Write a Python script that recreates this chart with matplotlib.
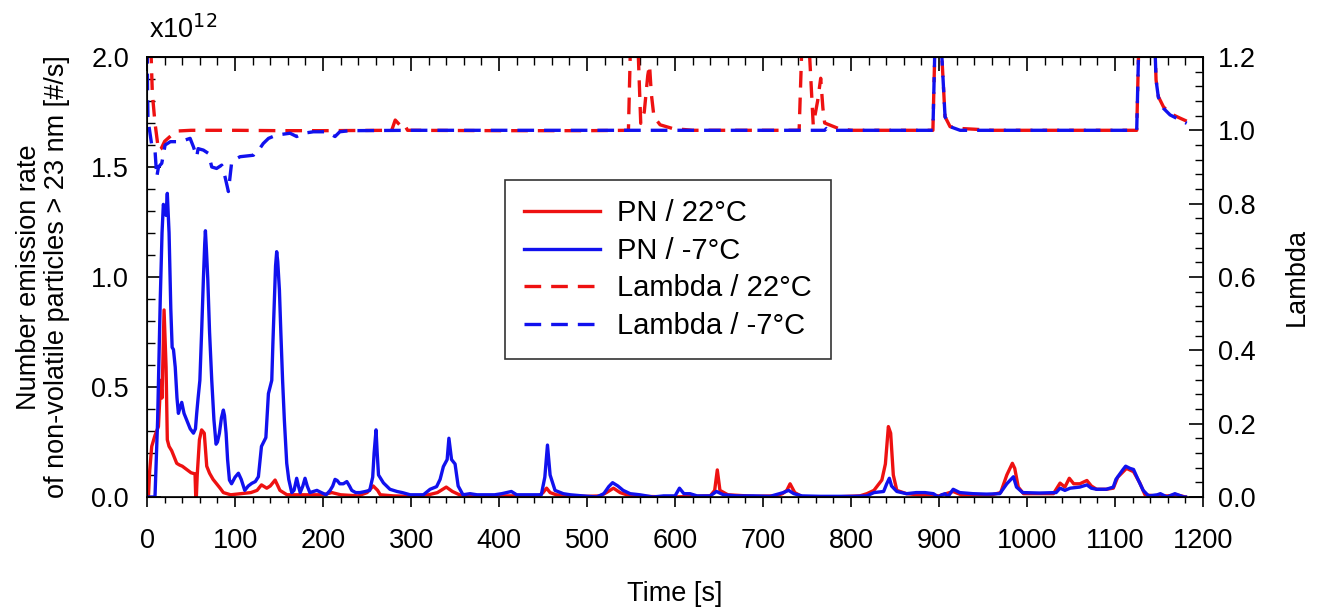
import matplotlib
matplotlib.use("Agg")
import matplotlib.pyplot as plt
from matplotlib.ticker import MultipleLocator, FormatStrFormatter

plt.rcParams['font.family'] = ['Liberation Sans', 'DejaVu Sans']

# ---- data (PN in units of 1e12 #/s) ----
pn_m7_t = [0, 8, 9, 12, 15, 17, 18.5, 20, 21.5, 23, 25, 27, 28.5, 30, 32, 34, 35.6, 37, 39.4, 42, 45, 49, 52.7, 55, 56.4, 58, 60, 62, 64, 65.5, 66.3, 67.5, 69, 71, 73.5, 76, 78.4, 80, 82.2, 84.5, 86.7, 88, 89.8, 91.5, 93.6, 96, 100, 103.8, 107, 111, 115, 119, 123, 126.5, 130, 135, 137.9, 141.7, 143, 144.7, 146, 147.3, 148.5, 150.4, 152, 154, 156, 158.7, 161, 164.4, 167, 170, 172, 174, 177, 179.5, 182, 185, 189, 193, 198, 203.5, 208, 211, 213.6, 216, 219, 223, 227, 230, 232.6, 237, 242, 248, 253, 256.4, 258, 260.2, 261.5, 263, 268.6, 276, 284, 290, 299, 306, 314, 321.6, 329, 333, 336.7, 341, 343, 344.5, 346, 350, 353.5, 359, 367, 375, 383, 395, 403, 408.7, 414, 420, 436, 448, 452, 455, 458, 463.6, 473, 481, 495, 511, 519, 524.6, 529, 535, 541, 549, 560, 575, 587, 600, 605, 610, 617, 625, 640, 647, 655, 670, 689, 708, 723, 729, 735, 744, 765, 784, 803, 818, 826, 837, 840.5, 843.5, 846, 852, 863, 874, 884, 893.6, 899, 903, 907, 910, 916, 923.6, 938.6, 954, 969, 977, 984.5, 988, 995, 1014, 1033, 1037.5, 1043, 1049, 1060, 1068, 1073, 1079, 1090, 1098, 1101, 1108.7, 1112, 1117, 1121, 1126.6, 1132, 1138, 1148, 1151.5, 1159, 1168, 1178, 1180]
pn_m7_v = [0, 0, 0, 0.35, 0.9, 1.2, 1.33, 1.31, 1.28, 1.38, 1.2, 0.85, 0.68, 0.67, 0.59, 0.45, 0.38, 0.40, 0.43, 0.38, 0.35, 0.31, 0.29, 0.31, 0.38, 0.45, 0.53, 0.75, 0.99, 1.15, 1.21, 1.12, 0.99, 0.75, 0.53, 0.35, 0.24, 0.25, 0.29, 0.36, 0.395, 0.37, 0.29, 0.17, 0.077, 0.06, 0.09, 0.108, 0.08, 0.03, 0.05, 0.062, 0.07, 0.092, 0.23, 0.27, 0.47, 0.53, 0.7, 0.895, 1.05, 1.115, 1.07, 0.94, 0.75, 0.53, 0.35, 0.153, 0.08, 0.02, 0.03, 0.085, 0.05, 0.02, 0.05, 0.085, 0.05, 0.02, 0.025, 0.03, 0.02, 0.01, 0.03, 0.05, 0.08, 0.075, 0.06, 0.06, 0.07, 0.05, 0.03, 0.02, 0.02, 0.025, 0.03, 0.09, 0.2, 0.305, 0.2, 0.1, 0.064, 0.035, 0.025, 0.02, 0.01, 0.01, 0.01, 0.035, 0.047, 0.08, 0.138, 0.17, 0.267, 0.22, 0.17, 0.15, 0.05, 0.01, 0.015, 0.01, 0.01, 0.01, 0.015, 0.02, 0.025, 0.01, 0.01, 0.01, 0.09, 0.236, 0.1, 0.03, 0.015, 0.01, 0.005, 0.0, 0.015, 0.047, 0.065, 0.05, 0.03, 0.015, 0.01, 0.0, 0.005, 0.005, 0.04, 0.015, 0.015, 0.005, 0.005, 0.025, 0.01, 0.005, 0.005, 0.003, 0.02, 0.03, 0.015, 0.005, 0.003, 0.003, 0.003, 0.005, 0.02, 0.025, 0.06, 0.085, 0.05, 0.025, 0.015, 0.02, 0.02, 0.015, 0.0, 0.01, 0.015, 0.0, 0.035, 0.02, 0.015, 0.013, 0.015, 0.06, 0.092, 0.045, 0.02, 0.018, 0.02, 0.04, 0.03, 0.04, 0.045, 0.055, 0.04, 0.035, 0.035, 0.045, 0.08, 0.123, 0.14, 0.13, 0.125, 0.075, 0.03, 0.005, 0.01, 0.015, 0.0, 0.015, 0.0, 0.0]

pn_22_t = [0, 1.5, 3, 5.3, 9, 12.9, 15.5, 17, 19.3, 21.6, 23, 25, 28, 31, 33.7, 37, 40, 45, 50, 54.5, 55.3, 56, 57, 59.5, 62, 65, 67.8, 71, 75, 79, 83, 86.7, 95, 107, 118, 125, 130, 136, 140, 145.5, 151, 159, 175, 190, 200, 210, 220, 240, 250, 257, 262, 265, 280, 300, 320, 330, 340, 347, 355, 370, 400, 420, 445, 450, 454, 458, 465, 480, 500, 515, 522, 530, 537.5, 545, 560, 600, 620, 640, 645, 648, 651, 660, 690, 715, 722, 727, 730.7, 736, 745, 780, 810, 818, 826, 835, 839, 842.4, 845, 848, 852, 863, 876, 890, 900, 916, 925, 960, 970, 977, 983.3, 986, 990, 996, 1030, 1037.5, 1043, 1048, 1053, 1060, 1068, 1073, 1079, 1090, 1098, 1103, 1113, 1121, 1128, 1134, 1145, 1160, 1170, 1180]
pn_22_v = [0, 0, 0.12, 0.23, 0.28, 0.32, 0.53, 0.45, 0.85, 0.59, 0.26, 0.23, 0.21, 0.18, 0.153, 0.145, 0.14, 0.125, 0.11, 0.105, 0.0, 0.0, 0.1, 0.26, 0.305, 0.29, 0.14, 0.108, 0.08, 0.06, 0.04, 0.02, 0.01, 0.015, 0.02, 0.03, 0.055, 0.04, 0.05, 0.077, 0.03, 0.01, 0.01, 0.01, 0.01, 0.02, 0.01, 0.005, 0.02, 0.05, 0.03, 0.01, 0.005, 0.003, 0.01, 0.02, 0.045, 0.025, 0.01, 0.005, 0.005, 0.005, 0.005, 0.02, 0.04, 0.02, 0.01, 0.005, 0.003, 0.005, 0.02, 0.04, 0.02, 0.01, 0.003, 0.0, 0.003, 0.005, 0.03, 0.123, 0.03, 0.01, 0.003, 0.005, 0.015, 0.03, 0.06, 0.02, 0.0, 0.0, 0.005, 0.015, 0.03, 0.077, 0.15, 0.32, 0.29, 0.1, 0.03, 0.015, 0.01, 0.01, 0.005, 0.025, 0.01, 0.01, 0.02, 0.1, 0.153, 0.13, 0.045, 0.015, 0.015, 0.063, 0.045, 0.085, 0.06, 0.06, 0.075, 0.05, 0.035, 0.035, 0.04, 0.09, 0.13, 0.115, 0.065, 0.01, 0.005, 0.005, 0.01, 0.0]

lam_22_t = [0, 4, 6, 9, 13, 16, 20, 27, 34, 50, 100, 150, 200, 278, 282, 287, 291.5, 296, 400, 500, 547, 550, 556.8, 561, 565, 569, 571, 573, 576, 583, 597, 620, 741, 745, 750.8, 757, 762, 765.5, 768, 770, 785.6, 800, 893, 896, 901, 906.8, 912.5, 923.9, 940, 960, 1124.6, 1127.6, 1144.3, 1146.6, 1149.2, 1155, 1162.5, 1174, 1181.4]
lam_22_v = [1.3, 1.25, 1.1, 1.02, 0.945, 0.95, 0.97, 0.985, 0.998, 1.0, 1.0, 0.999, 0.999, 1.0, 1.028, 1.015, 1.02, 1.0, 0.999, 0.999, 1.0, 1.3, 1.3, 1.019, 1.05, 1.15, 1.178, 1.1, 1.037, 1.015, 1.005, 1.0, 1.0, 1.3, 1.3, 1.015, 1.08, 1.142, 1.06, 1.02, 1.005, 1.0, 1.0, 1.3, 1.3, 1.037, 1.01, 1.005, 1.003, 1.0, 1.0, 1.3, 1.3, 1.137, 1.092, 1.064, 1.046, 1.033, 1.025]

lam_m7_t = [0, 0.5, 1, 5.3, 9, 11, 13, 16.7, 20.5, 26.5, 37.6, 48.9, 52.7, 56.4, 58, 64, 69.7, 73.5, 79, 84.8, 88.6, 92.4, 96, 98, 105.7, 120.8, 124.6, 128, 132, 138, 147, 162.5, 170, 178, 189, 204, 213.6, 219, 230, 300, 500, 770, 772, 775, 893, 896, 901, 906.8, 912.5, 923.9, 1124.6, 1127.6, 1144.3, 1146.6, 1149.2, 1155, 1162.5, 1174, 1181.4]
lam_m7_v = [1.3, 1.12, 1.03, 0.96, 0.946, 0.873, 0.9, 0.91, 0.96, 0.969, 0.969, 0.978, 0.955, 0.928, 0.95, 0.946, 0.937, 0.9, 0.896, 0.905, 0.873, 0.833, 0.91, 0.918, 0.928, 0.932, 0.946, 0.95, 0.964, 0.978, 0.987, 0.992, 0.983, 0.992, 0.996, 0.996, 0.983, 0.996, 0.999, 1.0, 1.0, 1.0, 1.005, 1.0, 1.0, 1.3, 1.3, 1.037, 1.01, 1.0, 1.0, 1.3, 1.3, 1.137, 1.09, 1.06, 1.042, 1.028, 1.019]

labels = ['PN / 22°C', 'PN / -7°C', 'Lambda / 22°C', 'Lambda / -7°C']
red = '#ee1111'
blue = '#1111ee'

fig = plt.figure(figsize=(13.19, 6.08), dpi=100)
ax = fig.add_axes([0.1115, 0.1826, 0.8006, 0.7237])
ax2 = ax.twinx()

lw = 2.4
l1, = ax.plot(pn_22_t, pn_22_v, color=red, lw=lw)
l2, = ax.plot(pn_m7_t, pn_m7_v, color=blue, lw=lw)
l3, = ax2.plot(lam_22_t, lam_22_v, color=red, lw=lw, dashes=(5.0, 3.0))
l4, = ax2.plot(lam_m7_t, lam_m7_v, color=blue, lw=lw, dashes=(5.0, 3.0))

ax.set_xlim(0, 1200)
ax.set_ylim(0, 2.0)
ax2.set_ylim(0, 1.2)

fs = 19.5
ax.xaxis.set_major_locator(MultipleLocator(100))
ax.xaxis.set_minor_locator(MultipleLocator(20))
ax.yaxis.set_major_locator(MultipleLocator(0.5))
ax.yaxis.set_minor_locator(MultipleLocator(0.1))
ax2.yaxis.set_major_locator(MultipleLocator(0.2))
ax2.yaxis.set_minor_locator(MultipleLocator(0.04))
ax.yaxis.set_major_formatter(FormatStrFormatter('%.1f'))
ax2.yaxis.set_major_formatter(FormatStrFormatter('%.1f'))

# bottom ticks point outward, top ticks inward (drawn by a secondary x axis)
ax.tick_params(axis='x', which='both', direction='out', top=False, bottom=True, labelsize=fs, pad=15)
ax.tick_params(axis='x', which='major', length=7, width=1.2)
ax.tick_params(axis='x', which='minor', length=4, width=1.0)
secx = ax.secondary_xaxis('top')
secx.xaxis.set_major_locator(MultipleLocator(100))
secx.xaxis.set_minor_locator(MultipleLocator(20))
secx.tick_params(axis='x', which='both', direction='in', labeltop=False)
secx.tick_params(which='major', length=10, width=1.2)
secx.tick_params(which='minor', length=6, width=1.0)
secx.spines['top'].set_linewidth(1.2)

ax.tick_params(axis='y', which='both', direction='in', left=True, right=False, labelsize=fs, pad=13)
ax.tick_params(axis='y', which='major', length=10, width=1.2)
ax.tick_params(axis='y', which='minor', length=6, width=1.0)
ax2.tick_params(axis='y', which='both', direction='in', right=True, labelsize=fs, pad=11)
ax2.tick_params(which='major', length=10, width=1.2)
ax2.tick_params(which='minor', length=6, width=1.0)
for sp in ax.spines.values():
    sp.set_linewidth(1.2)

ax.set_xlabel('Time [s]', fontsize=fs, labelpad=20)
ax.set_ylabel('Number emission rate\nof non-volatile particles > 23 nm [#/s]', fontsize=fs,
              labelpad=15, linespacing=1.1)
ax2.set_ylabel('Lambda', fontsize=fs, labelpad=20)
fig.text(0.113, 0.928, r'x10$^{12}$', fontsize=fs, ha='left', va='bottom')

leg = ax2.legend([l1, l2, l3, l4], labels, loc='upper left', bbox_to_anchor=(0.339, 0.72),
                 borderaxespad=0, fontsize=21, frameon=True, fancybox=False,
                 edgecolor='black', handlelength=2.6, handletextpad=0.6,
                 labelspacing=0.33, borderpad=0.65)
leg.get_frame().set_linewidth(1.2)

fig.savefig('out.png', dpi=100)
